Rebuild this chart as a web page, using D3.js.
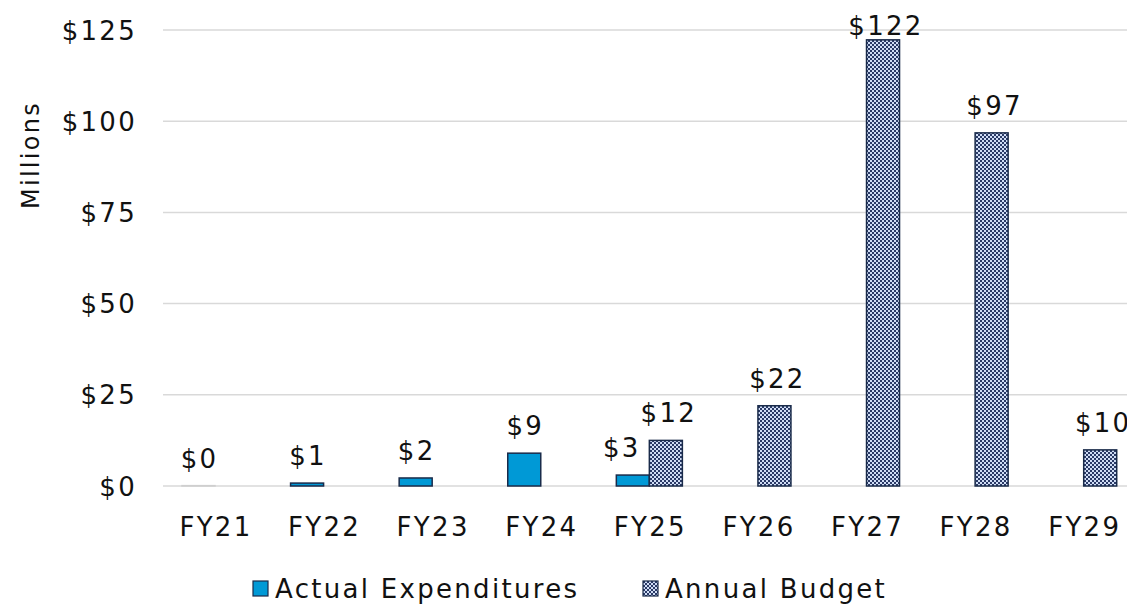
<!DOCTYPE html>
<html><head><meta charset="utf-8">
<script src="https://cdn.jsdelivr.net/npm/d3@7"></script>
<style>body{margin:0;background:#fff;} svg{display:block;} text{font-family:"DejaVu Sans",sans-serif;fill:#111;letter-spacing:2.3px;}</style>
</head><body><svg id="c" width="1127" height="605"></svg>
<script>
const categories = ["FY21","FY22","FY23","FY24","FY25","FY26","FY27","FY28","FY29"];
const actualValues = [0.1, 0.8, 2.2, 9, 3, null, null, null, null];
const actualLabels = ["$0","$1","$2","$9","$3",null,null,null,null];
const budgetValues = [null, null, null, null, 12.5, 22, 122.3, 96.8, 9.9];
const budgetLabels = [null,null,null,null,"$12","$22","$122","$97","$10"];
const yTicks = [0,25,50,75,100,125];
const seriesNames = ["Actual Expenditures","Annual Budget"];

const svg = d3.select("#c");
const defs = svg.append("defs");
const pat = defs.append("pattern").attr("id","chk").attr("patternUnits","userSpaceOnUse").attr("width",4).attr("height",4);
pat.append("rect").attr("width",4).attr("height",4).attr("fill","#d0ddf5");
pat.append("rect").attr("width",2).attr("height",2).attr("fill","#2a3a66");
pat.append("rect").attr("x",2).attr("y",2).attr("width",2).attr("height",2).attr("fill","#2a3a66");

const x0 = 160.7, x1 = 1138, yTop = 30, yBot = 486;
const x = d3.scaleBand().domain(categories).range([x0,x1]).paddingInner(0.392).paddingOuter(0.196);
const y = d3.scaleLinear().domain([0,125]).range([yBot,yTop]);
const bw = x.bandwidth()/2;
const fs = "26px";
const labelGap = 18, labelMinY = 35;
const labelY = v => Math.max(labelMinY, y(v) - labelGap);

// gridlines
svg.append("g").selectAll("line").data(yTicks).join("line")
  .attr("x1",163).attr("x2",1127).attr("y1",d=>y(d)).attr("y2",d=>y(d))
  .attr("stroke","#d9d9d9").attr("stroke-width",1.5);

// y axis labels
const yAxis = d3.axisLeft(y).tickValues(yTicks).tickFormat(d=>"$"+d).tickSize(0).tickPadding(0);
const ya = svg.append("g").attr("transform","translate(137,0)").call(yAxis);
ya.select(".domain").remove();
ya.selectAll("text").style("font-size",fs).style("font-family","DejaVu Sans").attr("dy","0.35em").attr("fill","#111");

// x axis labels
const xAxis = d3.axisBottom(x).tickSize(0).tickPadding(0);
const xa = svg.append("g").attr("transform","translate(1,"+(yBot+41)+")").call(xAxis);
xa.select(".domain").remove();
xa.selectAll("text").style("font-size",fs).style("font-family","DejaVu Sans").attr("dy","0.35em").attr("fill","#111");

// actual bars
const actIdx = categories.map((c,i)=>i).filter(i=>actualValues[i]!=null);
svg.append("g").selectAll("rect").data(actIdx).join("rect")
  .attr("x",i=>x(categories[i])).attr("width",bw)
  .attr("y",i=>y(actualValues[i])).attr("height",i=>yBot-y(actualValues[i]))
  .attr("fill","#0099d6").attr("stroke",i=>actualValues[i]<0.5?"#cfcfcf":"#1a2b4a").attr("stroke-width",1.5);
// actual label beside a budget bar is nudged left (as in the reference)
svg.append("g").selectAll("text").data(actIdx).join("text")
  .attr("x",i=>x(categories[i])+bw/2+1-(budgetValues[i]!=null?12:0)).attr("y",i=>labelY(actualValues[i]))
  .attr("text-anchor","middle").style("font-size",fs).text(i=>actualLabels[i]);

// budget bars
const budIdx = categories.map((c,i)=>i).filter(i=>budgetValues[i]!=null);
svg.append("g").selectAll("rect").data(budIdx).join("rect")
  .attr("x",i=>x(categories[i])+bw).attr("width",bw)
  .attr("y",i=>y(budgetValues[i])).attr("height",i=>yBot-y(budgetValues[i]))
  .attr("fill","url(#chk)").attr("stroke","#1a2b4a").attr("stroke-width",1.5);
svg.append("g").selectAll("text").data(budIdx).join("text")
  .attr("x",i=>x(categories[i])+bw*1.5+3).attr("y",i=>labelY(budgetValues[i]))
  .attr("text-anchor","middle").style("font-size",fs).text(i=>budgetLabels[i]);

// y title
svg.append("text").attr("transform","translate(39,155) rotate(-90)").attr("text-anchor","middle")
  .style("font-size","24px").text("Millions");

// legend
const leg = [{name:seriesNames[0],x:253,fill:"#0099d6"},{name:seriesNames[1],x:643,fill:"url(#chk)"}];
const lg = svg.append("g").selectAll("g").data(leg).join("g").attr("transform",d=>"translate("+d.x+",581)");
lg.append("rect").attr("width",15).attr("height",15).attr("fill",d=>d.fill).attr("stroke","#1a2b4a").attr("stroke-width",1.2);
lg.append("text").attr("x",22).attr("y",8).attr("dy","0.36em").style("font-size",fs).text(d=>d.name);
</script></body></html>
